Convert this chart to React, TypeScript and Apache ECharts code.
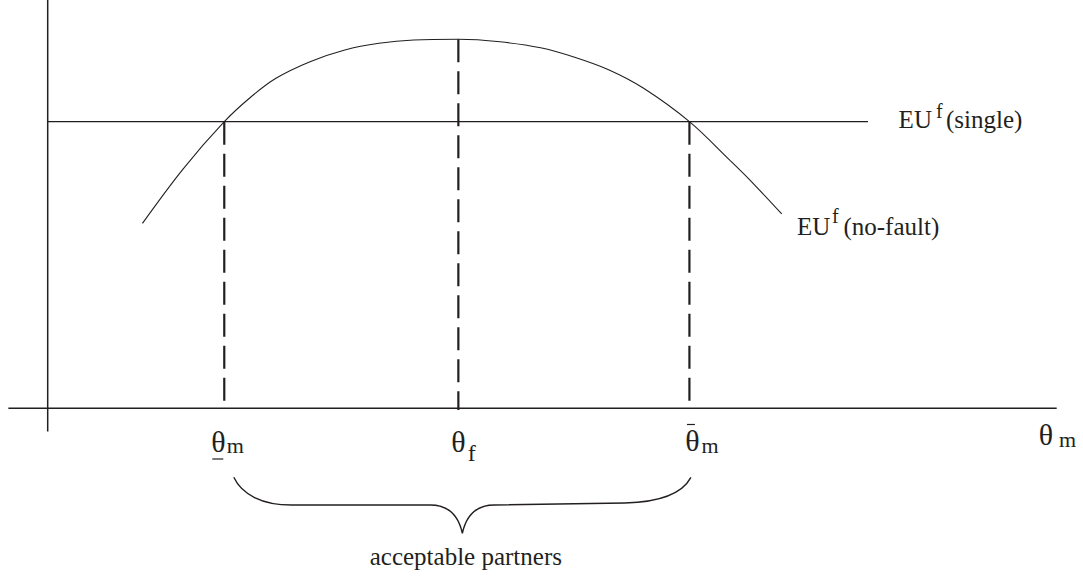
import React, { useEffect, useRef } from "react";
import * as echarts from "echarts";

// ---- chart data (θm on the horizontal axis, EU on the vertical axis; axes run 0..100) ----
const curveTheta = [9.39, 13.41, 17.5, 20.05, 22.62, 26.0, 29.45, 32.83, 36.28, 40.7, 44.83, 48.85, 52.22, 55.59, 59.06, 63.6, 67.59, 69.6, 72.75];
const curveEU = [45.3, 58.6, 70.2, 76.07, 80.82, 84.89, 87.75, 89.39, 90.2, 90.37, 89.76, 88.29, 85.97, 82.91, 78.37, 70.2, 60.8, 55.9, 47.6];
const euSingle = 70.2;
const singleLineEnd = 81.3;
const thetaLow = 17.5;
const thetaF = 40.7;
const thetaHigh = 63.6;
const dashThetas = [thetaLow, thetaF, thetaHigh];
const dashTops = [euSingle, 90.37, euSingle];
const dashBottoms = [1, -0.4, 1];
const xAxisStart = -3.9;
const yAxisStart = -5.7;
const yAxisEnd = 101;

// ---- texts ----
const singleLabel = ["EU", "f", "(single)"];
const noFaultLabel = ["EU", "f", "(no-fault)"];
const thetaSubs = ["m", "f", "m"];
const axisName = ["θ", "m"];
const braceLabel = "acceptable partners";

// ---- layout (px) ----
const W = 1083;
const H = 577;
const ORIGIN_X = 47.7;
const AXIS_END_X = 1056.7;
const ORIGIN_Y = 408.3;
const SX = (AXIS_END_X - ORIGIN_X) / 100;
const SY = ORIGIN_Y / 100;

const INK = "#231f20";
const FAMILY = "Liberation Serif";

function txt(x: number, y: number, text: string, fontSize: number, align = "left") {
  return {
    type: "text",
    x,
    y,
    silent: true,
    style: {
      text,
      fontSize,
      fontFamily: FAMILY,
      fill: INK,
      align,
      textAlign: align,
      verticalAlign: "middle",
      textVerticalAlign: "middle",
    },
  };
}

function hline(x1: number, x2: number, y: number, w = 1.2) {
  return {
    type: "line",
    silent: true,
    shape: { x1, y1: y, x2, y2: y },
    style: { stroke: INK, lineWidth: w },
  };
}

export default function App() {
  const ref = useRef<HTMLDivElement>(null);

  useEffect(() => {
    if (!ref.current) return;
    const chart = echarts.init(ref.current, undefined, { renderer: "svg" });

    const line = (data: number[][], width: number, extra: any = {}) => ({
      type: "line",
      data,
      symbol: "none",
      silent: true,
      lineStyle: { color: INK, width, ...extra },
    });

    const dashSeries = dashThetas.map((t, i) =>
      line(
        [
          [t, dashTops[i]],
          [t, dashBottoms[i]],
        ],
        2.2,
        { type: [23, 9] }
      )
    );

    chart.setOption({
      animation: false,
      textStyle: { fontFamily: FAMILY },
      grid: { left: 0, top: 0, right: 0, bottom: 0 },
      xAxis: {
        type: "value",
        min: -ORIGIN_X / SX,
        max: (W - ORIGIN_X) / SX,
        show: false,
      },
      yAxis: {
        type: "value",
        min: -(H - ORIGIN_Y) / SY,
        max: ORIGIN_Y / SY,
        show: false,
      },
      series: [
        line([[xAxisStart, 0], [100, 0]], 1.5),
        line([[0, yAxisStart], [0, yAxisEnd]], 1.5),
        line([[0, euSingle], [singleLineEnd, euSingle]], 1.3),
        {
          ...line(curveTheta.map((t, i) => [t, curveEU[i]]), 1.1),
          smooth: 0.35,
        },
        ...dashSeries,
        {
          type: "custom",
          silent: true,
          data: [[thetaLow, thetaHigh]],
          renderItem: (_params: any, api: any) => {
            const a = api.coord([api.value(0), 0]);
            const b = api.coord([api.value(1), 0]);
            const L = a[0] + 9.5;
            const R = b[0] + 1.5;
            const base = a[1];
            const T = base + 69;
            const F = base + 96.7;
            const P = base + 125;
            const M = (L + R) / 2;
            const d =
              `M${L},${T} C${L + 8},${T + 17} ${L + 28},${F} ${L + 58},${F} ` +
              `L${M - 32},${F} C${M - 14},${F} ${M - 4},${F + 10} ${M},${P} ` +
              `C${M + 4},${F + 10} ${M + 14},${F} ${M + 32},${F} ` +
              `L${R - 66},${F - 2} C${R - 31},${F - 3} ${R - 9},${F - 11} ${R},${T}`;
            return {
              type: "path",
              shape: { pathData: d },
              style: { fill: "none", stroke: INK, lineWidth: 1.4 },
            };
          },
        },
      ],
    });

    const px = (x: number, y: number) => chart.convertToPixel({ gridIndex: 0 }, [x, y]) as number[];

    const s = px(singleLineEnd, euSingle);
    const n = px(curveTheta[curveTheta.length - 1], curveEU[curveEU.length - 1]);
    const tl = px(thetaLow, 0);
    const tf = px(thetaF, 0);
    const th = px(thetaHigh, 0);
    const ax = px(100, 0);
    const mid = px((thetaLow + thetaHigh) / 2, 0);

    const graphic: any[] = [
      // EU f(single)
      txt(s[0] + 30.6, s[1] - 1.8, singleLabel[0], 25),
      txt(s[0] + 68, s[1] - 10.2, singleLabel[1], 20),
      txt(s[0] + 78, s[1] - 1.8, singleLabel[2], 25),
      // EU f(no-fault)
      txt(n[0] + 15.3, n[1] + 12.6, noFaultLabel[0], 25),
      txt(n[0] + 50.3, n[1] + 2.3, noFaultLabel[1], 20),
      txt(n[0] + 61.7, n[1] + 12.6, noFaultLabel[2], 25),
      // lower θm
      txt(tl[0] - 5.8, tl[1] + 32.7, "θ", 30, "center"),
      hline(tl[0] - 12, tl[0] - 1, tl[1] + 50.7, 1.2),
      txt(tl[0] + 2.4, tl[1] + 37.3, thetaSubs[0], 22),
      // θf
      txt(tf[0], tf[1] + 32.7, "θ", 30, "center"),
      txt(tf[0] + 9.5, tf[1] + 44.7, thetaSubs[1], 24),
      // upper θm
      txt(th[0] + 3, th[1] + 32.2, "θ", 30, "center"),
      hline(th[0] - 2.5, th[0] + 5.5, th[1] + 16.2, 1.2),
      txt(th[0] + 12.2, th[1] + 37.3, thetaSubs[2], 22),
      // axis name θm
      txt(ax[0] - 10.7, ax[1] + 25.7, axisName[0], 30, "center"),
      txt(ax[0] + 2.3, ax[1] + 31, axisName[1], 22),
      // brace label
      txt(mid[0] + 9, mid[1] + 148.3, braceLabel, 25, "center"),
    ];

    chart.setOption({ graphic });

    return () => chart.dispose();
  }, []);

  return (
    <div
      ref={ref}
      style={{ position: "fixed", left: 0, top: 0, width: W, height: H, background: "#fff" }}
    />
  );
}
